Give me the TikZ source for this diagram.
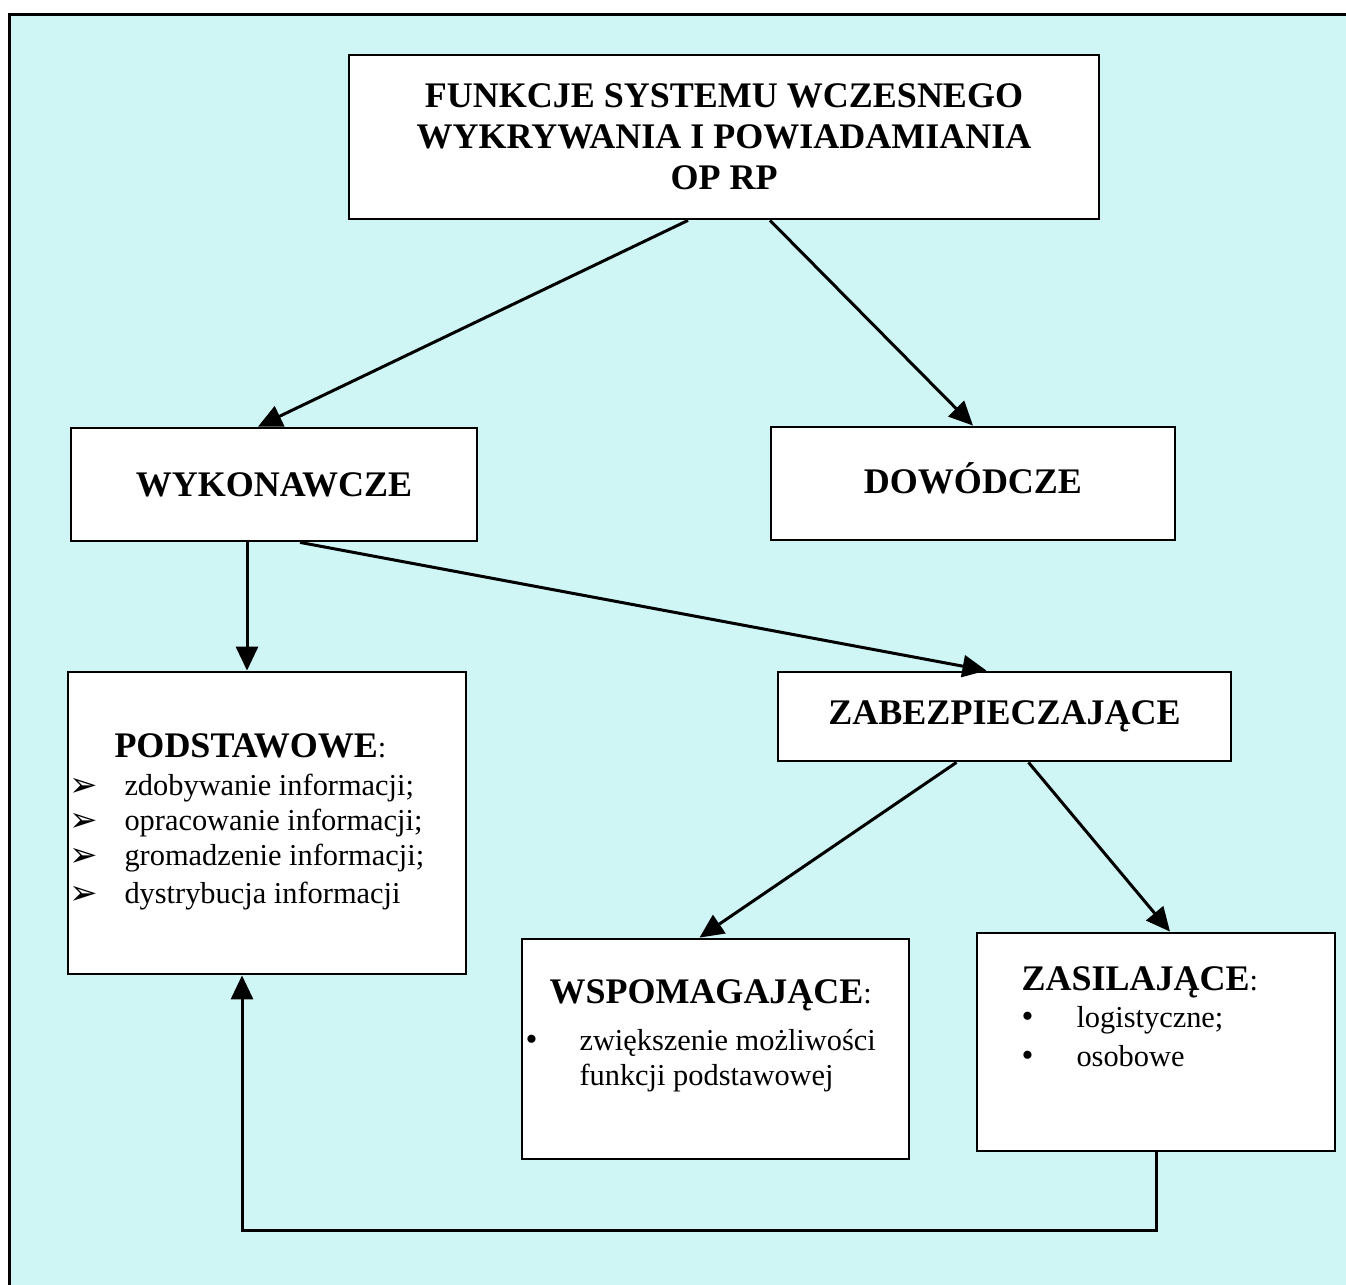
\documentclass[tikz,border=0pt]{standalone}
\usepackage{fontspec}
\setmainfont{Liberation Serif}
\newfontfamily\dingfont{DejaVu Sans}
\usepackage{tikz}
\usetikzlibrary{arrows,arrows.meta,positioning,calc}

\definecolor{tlo}{RGB}{207,246,245}
\newcommand{\naglowek}{\fontsize{18}{20.5}\selectfont\bfseries}
\newcommand{\tekst}{\fontsize{15.2}{18}\selectfont}

\begin{document}
\begin{tikzpicture}[->, >={Triangle[length=12pt,width=11pt]}, x=0.5pt, y=-0.5pt, line width=1.5pt]
    \tikzstyle{box}=[draw=black, fill=white, rectangle, line width=1.4pt, inner sep=0pt, text=black]
    \tikzstyle{wiersz}=[anchor=base west, inner sep=0pt, font=\tekst]
    \tikzstyle{strzalka}=[anchor=base west, inner sep=0pt, font=\dingfont\fontsize{17}{17}\selectfont]
    \tikzstyle{kropka}=[anchor=base west, inner sep=0pt, font=\fontsize{17}{17}\selectfont]

    \useasboundingbox (0,0) rectangle (1346,1285);
    \fill[white] (0,0) rectangle (1346,1285);
    \filldraw[-, fill=tlo, draw=black] (9,14) rectangle (1360,1300);

    \node[box, minimum width=375pt, minimum height=82pt, font=\naglowek, align=center] (F) at (724,137)
        {FUNKCJE SYSTEMU WCZESNEGO\\WYKRYWANIA I POWIADAMIANIA\\OP RP};
    \node[box, minimum width=203pt, minimum height=56.5pt, font=\naglowek] (W) at (274,484.5) {WYKONAWCZE};
    \node[box, minimum width=202pt, minimum height=56.5pt, font=\naglowek] (D) at (973,483.5) {\raisebox{5pt}{DOWÓDCZE}};
    \node[box, minimum width=226.5pt, minimum height=44.5pt, font=\naglowek] (Z) at (1004.5,716.5) {ZABEZPIECZAJĄCE};
    \node[box, minimum width=199pt, minimum height=151pt] (P) at (267,823) {};
    \node[box, minimum width=193.5pt, minimum height=110pt] (S) at (715.5,1049) {};
    \node[box, minimum width=179pt, minimum height=109pt] (L) at (1156,1042) {};

    % podstawowe
    \node[wiersz] (P0) at (113,757) {{\naglowek PODSTAWOWE}:};
    \node[strzalka] (Pa) at (68,796) {➢};
    \node[strzalka] (Pb) at (68,831) {➢};
    \node[strzalka] (Pc) at (68,866) {➢};
    \node[strzalka] (Pd) at (68,904) {➢};
    \node[wiersz] (P1) at (123,795) {zdobywanie informacji;};
    \node[wiersz] (P2) at (123,830) {opracowanie informacji;};
    \node[wiersz] (P3) at (123,865) {gromadzenie informacji;};
    \node[wiersz] (P4) at (123,903) {dystrybucja informacji};

    % wspomagajace
    \node[wiersz] (S0) at (548,1003) {{\naglowek WSPOMAGAJĄCE}:};
    \node[kropka] (Sa) at (524,1050) {•};
    \node[wiersz] (S1) at (578,1050) {zwiększenie możliwości};
    \node[wiersz] (S2) at (578,1085) {funkcji podstawowej};

    % zasilajace
    \node[wiersz] (L0) at (1020,990) {{\naglowek ZASILAJĄCE}:};
    \node[kropka] (La) at (1020,1027) {•};
    \node[kropka] (Lb) at (1020,1066) {•};
    \node[wiersz] (L1) at (1075,1027) {logistyczne;};
    \node[wiersz] (L2) at (1075,1066) {osobowe};

    \path ([xshift=-18pt]F.south) edge ([xshift=-8pt]W.north)
          ([xshift=23pt]F.south)  edge (D.north)
          ([xshift=13pt]W.south)  edge ([xshift=-9pt]Z.north)
          ([xshift=-24pt]Z.south) edge ([xshift=-8pt]S.north)
          ([xshift=12pt]Z.south)  edge ([xshift=7pt]L.north);
    \draw ([xshift=-13.5pt]W.south) -- ([xshift=-13.5pt]W.south |- P.north);
    \draw (L.south) -- ++(0,78) -| ([xshift=-12.5pt]P.south);
\end{tikzpicture}
\end{document}
